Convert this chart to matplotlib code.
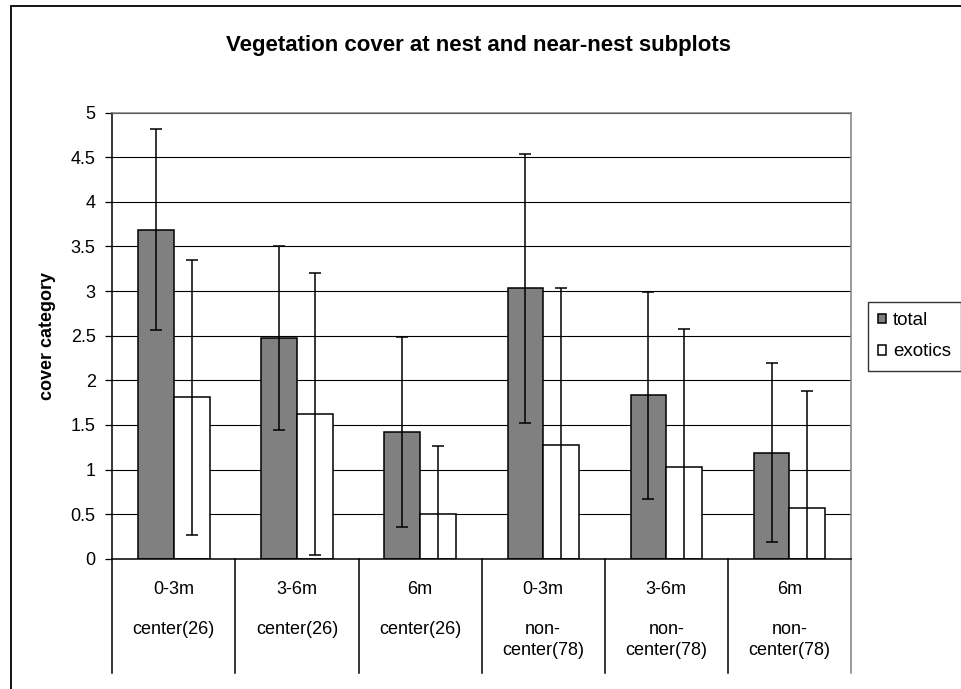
import matplotlib
matplotlib.use("Agg")
import matplotlib.pyplot as plt
from matplotlib.patches import Rectangle
from matplotlib.lines import Line2D

plt.rcParams['font.family'] = ['Liberation Sans', 'DejaVu Sans']

# ---- data ----
distances = ["0-3m", "3-6m", "6m", "0-3m", "3-6m", "6m"]
groups = ["center(26)", "center(26)", "center(26)", "non-\ncenter(78)", "non-\ncenter(78)", "non-\ncenter(78)"]
total = [3.69, 2.47, 1.42, 3.03, 1.83, 1.19]
total_err = [1.13, 1.03, 1.06, 1.51, 1.16, 1.00]
exotics = [1.81, 1.62, 0.50, 1.28, 1.03, 0.57]
exotics_err = [1.54, 1.58, 0.76, 1.75, 1.54, 1.31]
yticks = [0, 0.5, 1, 1.5, 2, 2.5, 3, 3.5, 4, 4.5, 5]
ytick_labels = ["0", "0.5", "1", "1.5", "2", "2.5", "3", "3.5", "4", "4.5", "5"]
series_names = ["total", "exotics"]
title = "Vegetation cover at nest and near-nest subplots"
ylabel = "cover category"

W, H = 961, 689
fig = plt.figure(figsize=(W / 100, H / 100), dpi=100)

def fx(px):
    return px / W

def fy(py):
    return 1 - py / H

# plot area
left, right, top, bottom = 112.3, 851.0, 112.7, 558.7
ax = fig.add_axes([fx(left), fy(bottom), fx(right) - fx(left), fy(top) - fy(bottom)])

n = len(total)
xs = list(range(n))
bw = 0.29
xt = [x - bw / 2 for x in xs]
xe = [x + bw / 2 for x in xs]

ax.set_axisbelow(True)
ax.yaxis.grid(True, color='black', linewidth=0.8)
b1 = ax.bar(xt, total, width=bw, color='#808080', edgecolor='black', linewidth=1.1, label=series_names[0], zorder=2)
b2 = ax.bar(xe, exotics, width=bw, color='white', edgecolor='black', linewidth=1.1, label=series_names[1], zorder=2)
ax.errorbar(xt, total, yerr=total_err, fmt='none', ecolor='black', elinewidth=1.1, capsize=4.5, capthick=1.1, zorder=3)
ax.errorbar(xe, exotics, yerr=exotics_err, fmt='none', ecolor='black', elinewidth=1.1, capsize=4.5, capthick=1.1, zorder=3)

ax.set_xlim(-0.5, n - 0.5)
ax.set_ylim(0, 5)
ax.set_yticks(yticks)
ax.set_yticklabels(ytick_labels)
ax.tick_params(axis='y', direction='out', length=5, width=0.9, pad=7, labelsize=13)
ax.set_xticks([])

for s in ['top', 'right']:
    ax.spines[s].set_color('#808080')
    ax.spines[s].set_linewidth(1.1)
for s in ['left', 'bottom']:
    ax.spines[s].set_color('black')
    ax.spines[s].set_linewidth(1.1)

# category separators and labels
sep_bottom = (bottom - 673) / (bottom - top)
for k in range(n + 1):
    col = '#808080' if k == n else 'black'
    ax.add_line(Line2D([k - 0.5, k - 0.5], [0, sep_bottom], transform=ax.get_xaxis_transform(),
                       color=col, linewidth=1.1, clip_on=False))

for i in range(n):
    ax.text(i, (bottom - 589) / (bottom - top), distances[i], transform=ax.get_xaxis_transform(),
            ha='center', va='center', fontsize=13)
    ax.text(i, (bottom - 621) / (bottom - top), groups[i], transform=ax.get_xaxis_transform(),
            ha='center', va='top', fontsize=13, linespacing=1.3)

# title & ylabel
fig.text(fx(479), fy(51.5), title, ha='center', va='baseline', fontsize=16, fontweight='bold')
fig.text(fx(47), fy((top + bottom) / 2), ylabel, ha='center', va='center', rotation=90,
         fontsize=13, fontweight='bold')

# legend
leg = fig.legend(handles=[b1, b2], labels=series_names, loc='upper left',
                 bbox_to_anchor=(fx(868), fy(302)), frameon=True, fancybox=False,
                 edgecolor='black', fontsize=13.5, handlelength=0.42, handleheight=0.42,
                 handletextpad=0.35, borderpad=0.55, labelspacing=0.75, borderaxespad=0)
leg.get_frame().set_linewidth(1.0)

# outer chart border
fig.add_artist(Rectangle((fx(11), fy(H + 20)), 1.2, fy(6) - fy(H + 20), transform=fig.transFigure,
                         fill=False, edgecolor='black', linewidth=1.3))

fig.savefig("out.png", dpi=100)
